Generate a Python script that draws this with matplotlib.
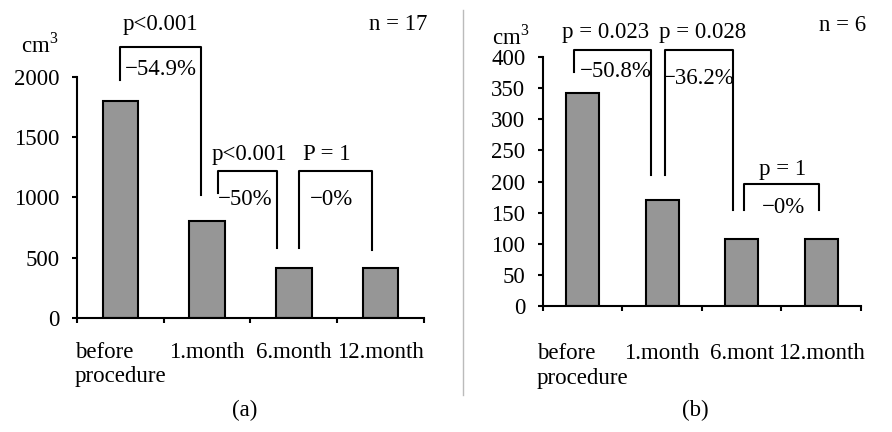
import matplotlib
matplotlib.use('Agg')
import matplotlib.pyplot as plt
from matplotlib.lines import Line2D

plt.rcParams['font.family'] = ['Liberation Serif', 'DejaVu Serif']
plt.rcParams['font.size'] = 16.5
plt.rcParams['mathtext.fontset'] = 'custom'
plt.rcParams['mathtext.rm'] = 'Liberation Serif'

# данные
categories_a = ['before\nprocedure', '1.month', '6.month', '12.month']
values_a = [1800, 805, 415, 415]
categories_b = ['before\nprocedure', '1.month', '6.mont', '12.month']
values_b = [342, 170, 108, 108]

BAR_COLOR = '#969696'
LW = 1.5
CM3 = r'cm$^\mathrm{3}$'


def setup_axes(ax, cats, vals, ymax, ystep, label_off):
    x = range(len(cats))
    ax.bar(x, vals, width=0.41, color=BAR_COLOR, edgecolor='black', linewidth=LW, zorder=2)
    ax.set_xlim(-0.5, len(cats) - 0.5)
    ax.set_ylim(0, ymax)
    ax.set_yticks(range(0, ymax + 1, ystep))
    # подписи категорий по центру, тики на границах
    ax.set_xticks([i + 0.5 for i in range(-1, len(cats))])
    ax.set_xticklabels([''] * (len(cats) + 1))
    for i, c in enumerate(cats):
        ax.text(i, label_off, c, transform=ax.get_xaxis_transform(), ha='center', va='top',
                multialignment='left', linespacing=1.2)
    for s in ['top', 'right']:
        ax.spines[s].set_visible(False)
    for s in ['left', 'bottom']:
        ax.spines[s].set_linewidth(LW)
    ax.tick_params(axis='both', direction='out', length=3.6, width=LW, labelsize=16.5)
    ax.tick_params(axis='y', pad=9)


def bracket(ax, x0, x1, ytop, yl, yr):
    ax.plot([x0, x0, x1, x1], [yl, ytop, ytop, yr], color='black', lw=LW, clip_on=False)


fig = plt.figure(figsize=(8.92, 4.32), dpi=100)

# (a)
ax1 = fig.add_axes([0.0863, 0.2639, 0.389, 0.558])
setup_axes(ax1, categories_a, values_a, 2000, 500, -0.1)
bracket(ax1, 0.0, 0.93, 2249, 1975, 1021)
bracket(ax1, 1.125, 1.805, 1220, 1037, 581)
bracket(ax1, 2.06, 2.90, 1220, 581, 564)
ax1.text(0.46, 2432, 'p<0.001', ha='center', va='center')
ax1.text(0.47, 2058, '\u221254.9%', ha='center', va='center')
ax1.text(1.49, 1353, 'p<0.001', ha='center', va='center')
ax1.text(1.44, 979, '\u221250%', ha='center', va='center')
ax1.text(2.38, 1353, 'P = 1', ha='center', va='center')
ax1.text(2.43, 979, '\u22120%', ha='center', va='center')
ax1.text(-0.107, 1.133, CM3, transform=ax1.transAxes, ha='center', va='center')
ax1.text(3.2, 2432, 'n = 17', ha='center', va='center')

# (b)
ax2 = fig.add_axes([0.6087, 0.2917, 0.3565, 0.5763])
setup_axes(ax2, categories_b, values_b, 400, 50, -0.15)
bracket(ax2, -0.11, 0.858, 411, 376, 210)
bracket(ax2, 1.035, 1.89, 411, 210, 154)
bracket(ax2, 2.03, 2.97, 196, 154, 154)
ax2.text(0.29, 439, 'p = 0.023', ha='center', va='center')
ax2.text(1.51, 439, 'p = 0.028', ha='center', va='center')
ax2.text(0.42, 376, '\u221250.8%', ha='center', va='center')
ax2.text(1.46, 365, '\u221236.2%', ha='center', va='center')
ax2.text(2.52, 220, 'p = 1', ha='center', va='center')
ax2.text(2.52, 159, '\u22120%', ha='center', va='center')
ax2.text(3.27, 451, 'n = 6', ha='center', va='center')
ax2.text(-0.9, 432, CM3, ha='center', va='center')

# разделитель и подписи
fig.add_artist(Line2D([0.519, 0.519], [1 - 10 / 432, 1 - 395 / 432], color='#bbbbbb', lw=1))
fig.text(245 / 892, 1 - 410 / 432, '(a)', ha='center', va='center')
fig.text(695 / 892, 1 - 410 / 432, '(b)', ha='center', va='center')

fig.savefig('out.png', dpi=100)
